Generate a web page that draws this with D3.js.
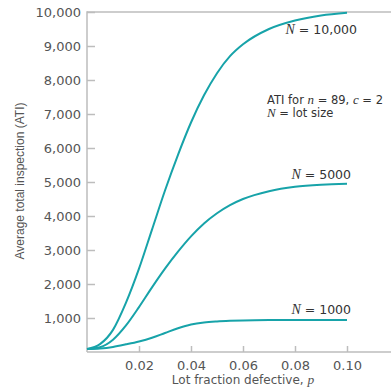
<!DOCTYPE html>
<html>
<head>
<meta charset="utf-8">
<script src="https://cdn.jsdelivr.net/npm/d3@7"></script>
<style>
  html, body { margin: 0; padding: 0; background: #fff; }
  svg { display: block; }
</style>
</head>
<body>
<div id="chart"></div>
<script>
// lot fraction defective
const pValues = [0, 0.005, 0.01, 0.015, 0.02, 0.025, 0.03, 0.035, 0.04, 0.045, 0.05, 0.055, 0.06, 0.07, 0.08, 0.09, 0.10];
// ATI
const ati10000 = [89, 230, 650, 1450, 2450, 3600, 4750, 5800, 6750, 7550, 8200, 8700, 9050, 9500, 9750, 9900, 9980];
const ati5000 = [89, 140, 360, 780, 1320, 1900, 2450, 2950, 3400, 3780, 4080, 4320, 4500, 4730, 4860, 4920, 4945];
const ati1000 = [89, 105, 150, 225, 310, 420, 560, 700, 810, 870, 900, 918, 930, 940, 942, 942, 942];

const xTicks = [0.02, 0.04, 0.06, 0.08, 0.10];
const yTicks = [1000, 2000, 3000, 4000, 5000, 6000, 7000, 8000, 9000, 10000];

const width = 391;
const height = 390;
const plotLeft = 87, plotRight = 391, plotTop = 12, plotBottom = 352;
const tickFont = '"DejaVu Sans", Verdana, sans-serif';
const italicFont = '"Liberation Serif", "Times New Roman", serif';
const curveColor = '#17a3a9';
const axisColor = '#bdbdbd';

const x = d3.scaleLinear().domain([0, 0.10]).range([plotLeft, 347]);
const y = d3.scaleLinear().domain([0, 10000]).range([plotBottom, plotTop]);

const svg = d3.select('#chart').append('svg')
  .attr('width', width)
  .attr('height', height);

// frame: left, bottom and top lines
svg.append('line')
  .attr('x1', plotLeft).attr('x2', plotRight).attr('y1', plotTop).attr('y2', plotTop)
  .attr('stroke', axisColor).attr('stroke-width', 1.5);

const yAxis = svg.append('g')
  .attr('transform', `translate(${plotLeft},0)`)
  .call(d3.axisLeft(y).tickValues(yTicks).tickFormat(d3.format(',')).tickSizeInner(-8).tickSizeOuter(0).tickPadding(6));

const xAxis = svg.append('g')
  .attr('transform', `translate(0,${plotBottom})`)
  .call(d3.axisBottom(x).tickValues(xTicks).tickFormat(d3.format('.2f')).tickSizeInner(-6).tickSizeOuter(0).tickPadding(9));

[xAxis, yAxis].forEach((g) => {
  g.select('.domain').remove();
  g.selectAll('.tick line').attr('stroke', axisColor).attr('stroke-width', 1.5);
  g.selectAll('.tick text')
    .attr('fill', '#555')
    .style('font-family', tickFont)
    .style('font-size', '13px');
});
xAxis.selectAll('.tick text').attr('dy', '0.71em');

svg.append('line')
  .attr('x1', plotLeft).attr('x2', plotLeft).attr('y1', plotTop - 0.75).attr('y2', plotBottom)
  .attr('stroke', axisColor).attr('stroke-width', 1.5);
svg.append('line')
  .attr('x1', plotLeft).attr('x2', plotRight).attr('y1', plotBottom).attr('y2', plotBottom)
  .attr('stroke', axisColor).attr('stroke-width', 1.5);

// axis titles
svg.append('text')
  .attr('x', 243)
  .attr('y', 384)
  .attr('text-anchor', 'middle')
  .attr('fill', '#555')
  .style('font-family', tickFont)
  .style('font-size', '12px')
  .call((t) => {
    t.append('tspan').text('Lot fraction defective, ');
    t.append('tspan').attr('font-family', italicFont).attr('font-style', 'italic').attr('font-size', '13.5px').text('p');
  });

svg.append('text')
  .attr('transform', 'rotate(-90)')
  .attr('x', -181)
  .attr('y', 24)
  .attr('text-anchor', 'middle')
  .attr('fill', '#555')
  .style('font-family', '"Liberation Sans", Arial, sans-serif')
  .style('font-size', '12px')
  .text('Average total inspection (ATI)');

// curves
const line = d3.line()
  .x((d) => x(d[0]))
  .y((d) => y(d[1]))
  .curve(d3.curveMonotoneX);

[ati10000, ati5000, ati1000].forEach((series) => {
  svg.append('path')
    .datum(pValues.map((p, i) => [p, series[i]]))
    .attr('d', line)
    .attr('fill', 'none')
    .attr('stroke', curveColor)
    .attr('stroke-width', 2);
});

// annotations
function label(xPos, yPos, parts, anchor, size) {
  const t = svg.append('text')
    .attr('x', xPos)
    .attr('y', yPos)
    .attr('text-anchor', anchor || 'start')
    .attr('fill', '#333')
    .style('font-family', tickFont)
    .style('font-size', size + 'px');
  parts.forEach((part) => {
    const s = t.append('tspan').text(part[0]);
    if (part[1]) {
      s.attr('font-family', italicFont).attr('font-style', 'italic').attr('font-size', (size + 1.5) + 'px');
    }
  });
}

label(357, 34, [['N', true], [' = 10,000']], 'end', 12.5);
label(351, 179, [['N', true], [' = 5000']], 'end', 12.5);
label(351, 314, [['N', true], [' = 1000']], 'end', 12.5);
label(267, 104, [['ATI for '], ['n', true], [' = 89, '], ['c', true], [' = 2']], 'start', 11.5);
label(267, 117, [['N', true], [' = lot size']], 'start', 11.5);
</script>
</body>
</html>
